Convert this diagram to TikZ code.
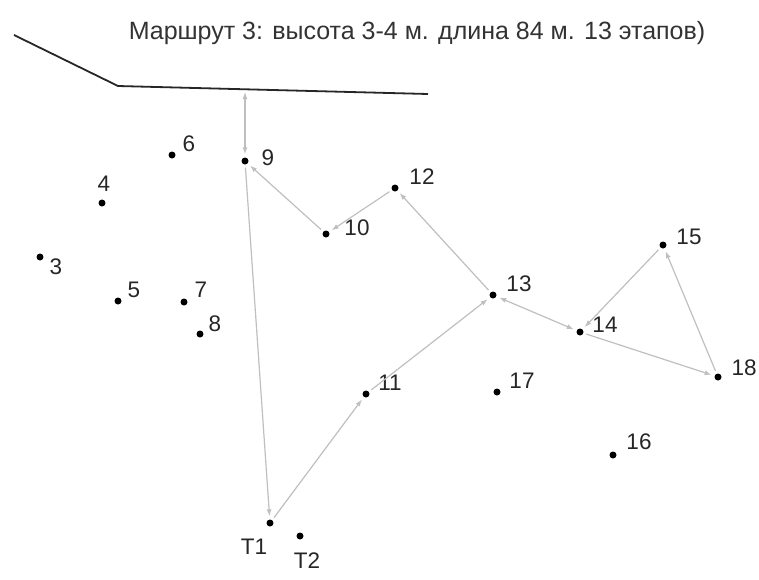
\documentclass[tikz,border=0pt]{standalone}
\usepackage{fontspec}
\setmainfont{Liberation Sans}
\usetikzlibrary{arrows.meta}
\begin{document}
\begin{tikzpicture}[x=1pt,y=-1pt,
  dot/.style={circle,fill=black,inner sep=0pt,minimum size=7pt},
  lbl/.style={font=\fontsize{22.5}{26}\selectfont,text=black!85,inner sep=0pt},
  route/.style={draw=black!25,line width=1.2pt,-{Latex[length=7pt,width=5pt]},shorten >=3pt,shorten <=3pt},
  both/.style={route,{Latex[length=7pt,width=5pt]}-{Latex[length=7pt,width=5pt]}},
  wall/.style={draw=black!85,line width=1.8pt}]
\useasboundingbox (0,0) rectangle (759,579);
\node[font=\fontsize{25}{30}\selectfont,text=black!80,inner sep=0pt] (title) at (417,33) {Маршрут 3: высота 3-4 м. длина 84 м. 13 этапов)};
% wall
\coordinate (w1) at (14,35);
\coordinate (w2) at (118,86);
\coordinate (w3) at (428,94);
\coordinate (wt) at (245,92);
\draw[wall] (w1) -- (w2) -- (w3);
% points
\node[dot] (p3) at (40,257) {};
\node[dot] (p4) at (102,203) {};
\node[dot] (p5) at (118,301) {};
\node[dot] (p6) at (172,155) {};
\node[dot] (p7) at (184,302) {};
\node[dot] (p8) at (200,334) {};
\node[dot] (p9) at (245,161) {};
\node[dot] (p10) at (326,234) {};
\node[dot] (p11) at (366,394) {};
\node[dot] (p12) at (395,188) {};
\node[dot] (p13) at (493,295) {};
\node[dot] (p14) at (580,332) {};
\node[dot] (p15) at (663,245) {};
\node[dot] (p16) at (613,455) {};
\node[dot] (p17) at (497,392) {};
\node[dot] (p18) at (718,377) {};
\node[dot] (t1) at (270,523) {};
\node[dot] (t2) at (300,536) {};
% labels
\node[lbl] (l3) at (56,267) {3};
\node[lbl] (l4) at (104,184) {4};
\node[lbl] (l5) at (134,290) {5};
\node[lbl] (l6) at (189,144) {6};
\node[lbl] (l7) at (201,290) {7};
\node[lbl] (l8) at (215,324) {8};
\node[lbl] (l9) at (268,158) {9};
\node[lbl] (l10) at (357,228) {10};
\node[lbl] (l11) at (390,383) {11};
\node[lbl] (l12) at (422,177) {12};
\node[lbl] (l13) at (519,284) {13};
\node[lbl] (l14) at (605,325) {14};
\node[lbl] (l15) at (689,237) {15};
\node[lbl] (l16) at (639,442) {16};
\node[lbl] (l17) at (522,381) {17};
\node[lbl] (l18) at (744,368) {18};
\node[lbl] (lt1) at (254,547) {T1};
\node[lbl] (lt2) at (307,561) {T2};
% route
\draw[route] (t1) -- (p11);
\draw[route] (p11) -- (p13);
\draw[both] (p13) -- (p14);
\draw[route] (p14) -- (p18);
\draw[route] (p18) -- (p15);
\draw[route] (p15) -- (p14);
\draw[route] (p13) -- (p12);
\draw[route] (p12) -- (p10);
\draw[route] (p10) -- (p9);
\draw[both,shorten <=0pt] (wt) -- (p9);
\draw[route] (p9) -- (t1);
\end{tikzpicture}
\end{document}
